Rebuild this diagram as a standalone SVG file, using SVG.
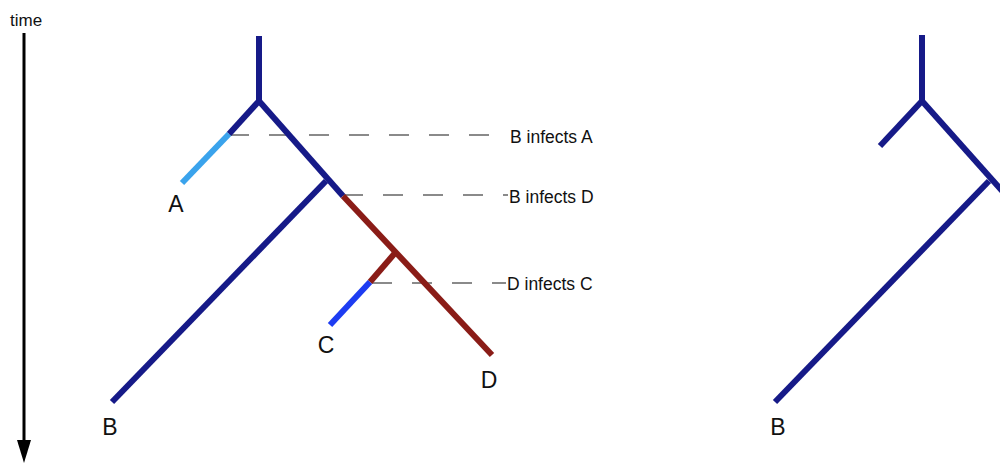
<svg xmlns="http://www.w3.org/2000/svg" width="1000" height="464" viewBox="0 0 1000 464">
<style>
.t{font-family:"Liberation Sans",Arial,sans-serif;fill:#111}
.lbl{font-size:23px;text-anchor:middle}
.ev{font-size:17.5px}
.br{fill:none;stroke-width:6;stroke-linecap:butt;stroke-linejoin:miter}
.navy{stroke:#161a88}
.red{stroke:#8a1c17}
.lb{stroke:#3aa3ec}
.bb{stroke:#1d3cf2}
.dash{stroke:#8a8a8a;stroke-width:2;stroke-dasharray:20 20;fill:none}
</style>
<rect width="1000" height="464" fill="#fff"/>
<g id="time-axis">
<text class="t" x="10" y="26" font-size="17">time</text>
<line x1="24" y1="33" x2="24" y2="444" stroke="#000" stroke-width="3"/>
<polygon points="17,440 31,440 24,463" fill="#000"/>
</g>
<g id="connectors">
<line class="dash" x1="229" y1="135" x2="502" y2="135"/>
<line class="dash" x1="343" y1="195" x2="508" y2="195"/>
<line class="dash" x1="372" y1="283" x2="506" y2="283"/>
</g>
<g id="left-tree">
<polyline class="br navy" points="259,36 259,101"/>
<polyline class="br navy" points="259,101 229,134"/>
<polyline class="br lb" points="229,134 182,183"/>
<polyline class="br navy" points="259,101 343,196"/>
<polyline class="br navy" points="326,181 112,402"/>
<polyline class="br red" points="343,196 492,355"/>
<polyline class="br red" points="395,253 370,282"/>
<polyline class="br bb" points="370,282 330,325"/>
</g>
<g id="node-A"><text class="t lbl" x="176" y="212">A</text></g>
<g id="node-B"><text class="t lbl" x="110" y="435">B</text></g>
<g id="node-C"><text class="t lbl" x="326" y="353">C</text></g>
<g id="node-D"><text class="t lbl" x="489" y="388">D</text></g>
<g id="event-BA"><text class="t ev" x="510" y="143">B infects A</text></g>
<g id="event-BD"><text class="t ev" x="509" y="203">B infects D</text></g>
<g id="event-DC"><text class="t ev" x="507" y="290">D infects C</text></g>
<g id="right-tree">
<polyline class="br navy" points="922,35 922,101"/>
<polyline class="br navy" points="922,101 880,146"/>
<polyline class="br navy" points="922,101 1020,211"/>
<polyline class="br navy" points="989,181 775,402"/>
</g>
<g id="node-B2"><text class="t lbl" x="778" y="435">B</text></g>
</svg>
